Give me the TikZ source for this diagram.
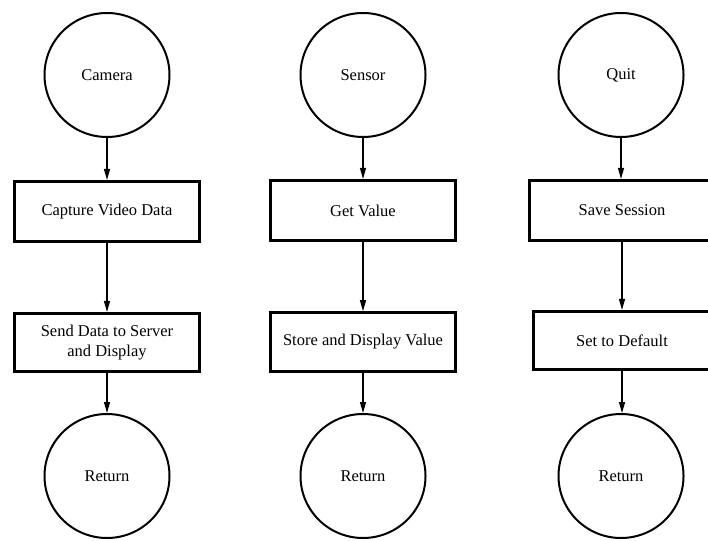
\documentclass[tikz,border=0pt]{standalone}
\usepackage{fontspec}
\setmainfont{Liberation Serif}
\usetikzlibrary{shapes.geometric,arrows.meta}
\begin{document}
\begin{tikzpicture}[x=1pt,y=-1pt,
  label text/.style={font=\rmfamily\fontsize{16.5}{19.5}\selectfont},
  state/.style={ellipse,draw,line width=2pt,minimum width=125pt,minimum height=124pt,
    inner sep=0pt,label text},
  proc/.style={rectangle,draw,line width=2.6pt,minimum width=185.5pt,minimum height=60.5pt,
    inner sep=0pt,align=center,label text},
  flow/.style={line width=1.2pt,-{Triangle[length=11pt,width=6pt]}}]
\useasboundingbox (0,0) rectangle (708,540);

% column 1: camera
\node[state] (cam)  at (107,75)    {Camera};
\node[proc]  (cap)  at (107,211.5) {Capture Video Data};
\node[proc,minimum height=58.5pt] (send) at (107,342.5) {Send Data to Server\\and Display};
\node[state] (ret1) at (107,476)   {Return};

% column 2: sensor
\node[state] (sen)  at (363,75)    {Sensor};
\node[proc]  (get)  at (363,210.5) {Get Value};
\node[proc,minimum height=59pt] (store) at (363,342) {Store and Display Value};
\node[state] (ret2) at (363,476)   {Return};

% column 3: quit (boxes run past the right edge)
\node[state] (quit) at (621,75)    {Quit};
\node[proc]  (save) at (622,210.5) {Save Session};
\node[proc,minimum width=177.5pt,minimum height=58.5pt] (def) at (622,340.5) {Set to Default};
\node[state] (ret3) at (621,476)   {Return};

% connectors
\draw[flow] (cam.south)   -- (cap.north);
\draw[flow] (cap.south)   -- (send.north);
\draw[flow] (send.south)  -- (ret1.north);
\draw[flow] (sen.south)   -- (get.north);
\draw[flow] (get.south)   -- (store.north);
\draw[flow] (store.south) -- (ret2.north);
\draw[flow] (quit.south)  -- (save.north -| quit.south);
\draw[flow] (save.south)  -- (def.north);
\draw[flow] (def.south)   -- (ret3.north -| def.south);
\end{tikzpicture}
\end{document}
